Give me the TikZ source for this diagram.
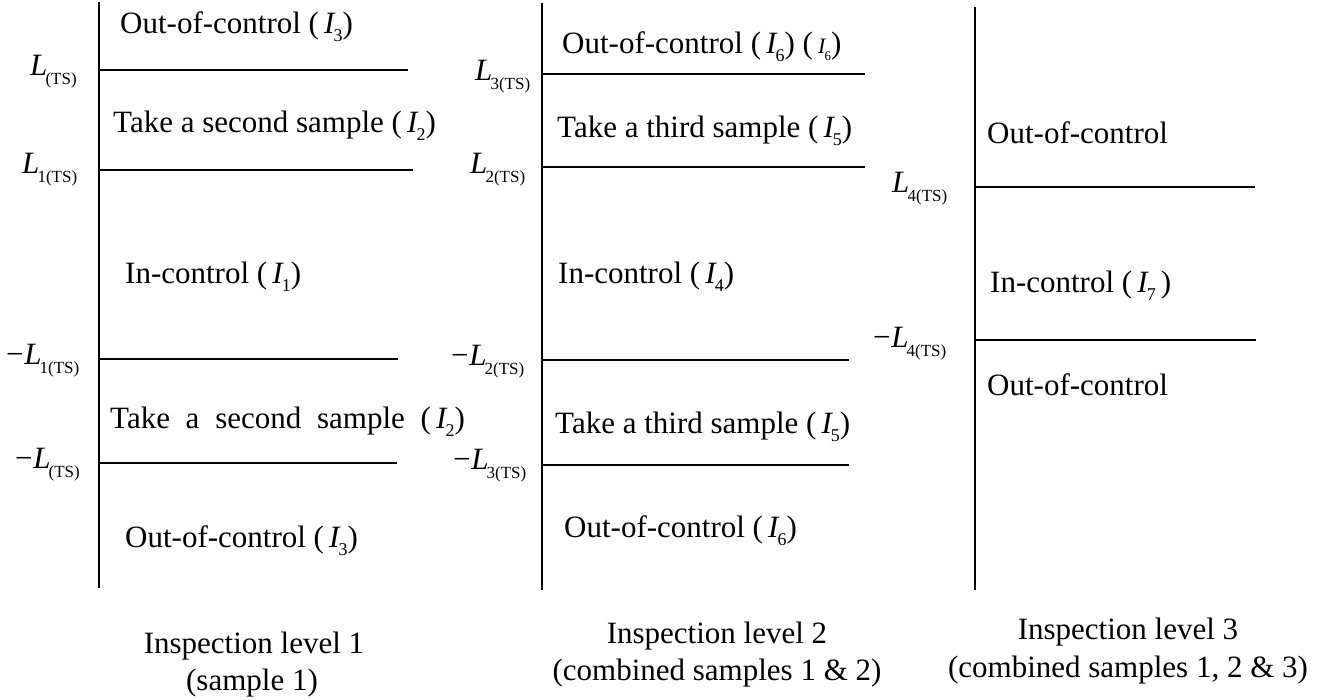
\documentclass[tikz,border=0pt]{standalone}
\usepackage{fontspec}
\setmainfont{Liberation Serif}
\newcommand\Isb[1]{{\itshape I}\kern-0.03em\raisebox{-0.28em}{\fontsize{18}{18}\selectfont #1}}
\newcommand\Ismall[1]{{\fontsize{22}{22}\selectfont\itshape I}\kern-0.03em\raisebox{-0.25em}{\fontsize{13}{13}\selectfont #1}}
\newcommand\Lsb[1]{{\itshape L}\kern-0.06em\raisebox{-0.3em}{\fontsize{17}{17}\selectfont #1}}
\newcommand\mn{\char"2212}
\begin{document}
\begin{tikzpicture}[x=1pt,y=-1pt,
  txt/.style={anchor=base west,inner sep=0pt,font=\fontsize{31}{36}\selectfont},
  captxt/.style={anchor=base,inner sep=0pt,font=\fontsize{31}{36}\selectfont},
  axis/.style={line width=2pt},
  lvl/.style={line width=1.6pt}]
\useasboundingbox (0,0) rectangle (1338,699);
% axes
\coordinate (a1t) at (99,2);   \coordinate (a1b) at (99,588);
\coordinate (a2t) at (542,3);  \coordinate (a2b) at (542,590);
\coordinate (a3t) at (975,7);  \coordinate (a3b) at (975,590);
\draw[axis] (a1t) -- (a1b);
\draw[axis] (a2t) -- (a2b);
\draw[axis] (a3t) -- (a3b);
% panel 1 lines
\coordinate (p1a) at (100,70);  \coordinate (q1a) at (408,70);
\coordinate (p1b) at (100,170); \coordinate (q1b) at (413,170);
\coordinate (p1c) at (100,359); \coordinate (q1c) at (398,359);
\coordinate (p1d) at (100,463); \coordinate (q1d) at (397,463);
\draw[lvl] (p1a) -- (q1a);
\draw[lvl] (p1b) -- (q1b);
\draw[lvl] (p1c) -- (q1c);
\draw[lvl] (p1d) -- (q1d);
% panel 2 lines
\coordinate (p2a) at (543,74);  \coordinate (q2a) at (865,74);
\coordinate (p2b) at (543,167); \coordinate (q2b) at (865,167);
\coordinate (p2c) at (543,360); \coordinate (q2c) at (849,360);
\coordinate (p2d) at (543,465); \coordinate (q2d) at (849,465);
\draw[lvl] (p2a) -- (q2a);
\draw[lvl] (p2b) -- (q2b);
\draw[lvl] (p2c) -- (q2c);
\draw[lvl] (p2d) -- (q2d);
% panel 3 lines
\coordinate (p3a) at (976,187); \coordinate (q3a) at (1255,187);
\coordinate (p3b) at (976,340); \coordinate (q3b) at (1256,340);
\draw[lvl] (p3a) -- (q3a);
\draw[lvl] (p3b) -- (q3b);
% panel 1 texts
\node[txt] (t11) at (120,33) {Out-of-control (\,\Isb{3})};
\node[txt] (t12) at (113,132) {Take a second sample (\,\Isb{2})};
\node[txt] (t13) at (125,283) {In-control (\,\Isb{1})};
\node[txt] (t14) at (110,428) {Take\hspace{8pt} a\hspace{8pt} second\hspace{8pt} sample\hspace{8pt} (\,\Isb{2})};
\node[txt] (t15) at (125,547) {Out-of-control (\,\Isb{3})};
\node[txt] (l11) at (30,75) {\Lsb{(TS)}};
\node[txt] (l12) at (22,173) {\Lsb{1(TS)}};
\node[txt] (l13) at (6,364) {\mn\kern0.02em\Lsb{1(TS)}};
\node[txt] (l14) at (15,468) {\mn\kern0.02em\Lsb{(TS)}};
% panel 2 texts
\node[txt] (t21) at (562,53) {Out-of-control (\,\Isb{6}) (\,\Ismall{6})};
\node[txt] (t22) at (557,137) {Take a third sample (\,\Isb{5})};
\node[txt] (t23) at (558,283) {In-control (\,\Isb{4})};
\node[txt] (t24) at (555,433) {Take a third sample (\,\Isb{5})};
\node[txt] (t25) at (564,537) {Out-of-control (\,\Isb{6})};
\node[txt] (l21) at (475,80) {\Lsb{3(TS)}};
\node[txt] (l22) at (470,173) {\Lsb{2(TS)}};
\node[txt] (l23) at (451,365) {\mn\kern0.02em\Lsb{2(TS)}};
\node[txt] (l24) at (453,469) {\mn\kern0.02em\Lsb{3(TS)}};
% panel 3 texts
\node[txt] (t31) at (987,143) {Out-of-control};
\node[txt] (t32) at (990,292) {In-control (\,\Isb{7}\,)};
\node[txt] (t33) at (987,395) {Out-of-control};
\node[txt] (l31) at (892,192) {\Lsb{4(TS)}};
\node[txt] (l32) at (873,347) {\mn\kern0.02em\Lsb{4(TS)}};
% captions
\node[captxt] (c11) at (254,653) {Inspection level 1};
\node[captxt] (c12) at (252,690) {(sample 1)};
\node[captxt] (c21) at (717,643) {Inspection level 2};
\node[captxt] (c22) at (717,680) {(combined samples 1 \& 2)};
\node[captxt] (c31) at (1128,639) {Inspection level 3};
\node[captxt] (c32) at (1128,677) {(combined samples 1, 2 \& 3)};
\end{tikzpicture}
\end{document}
